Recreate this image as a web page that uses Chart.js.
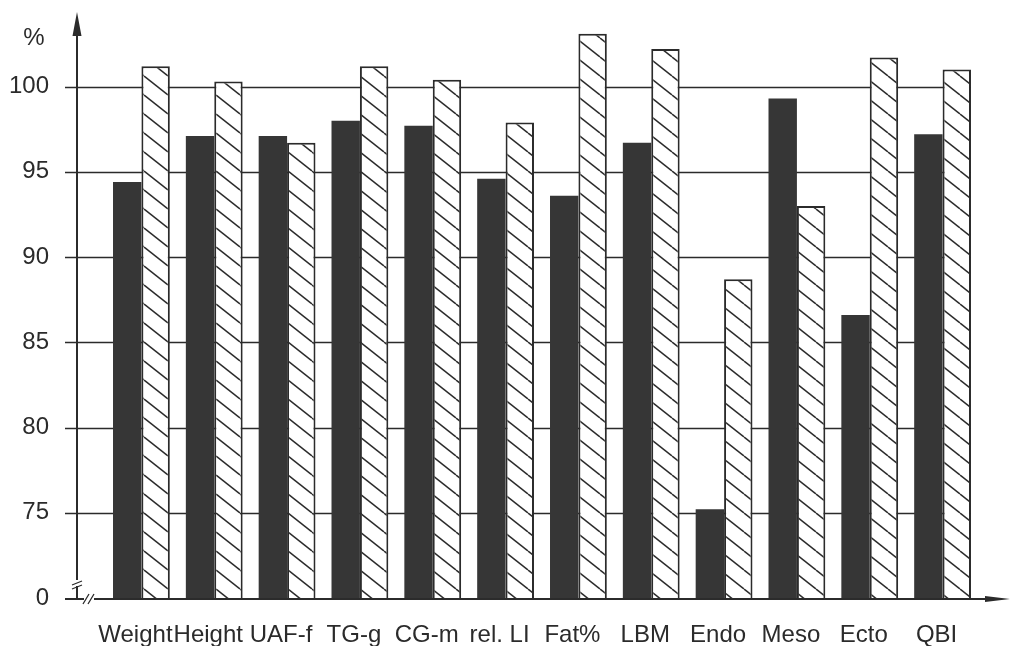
<!DOCTYPE html>
<html>
<head>
<meta charset="utf-8">
<script src="https://cdn.jsdelivr.net/npm/chart.js@4.4.0/dist/chart.umd.min.js"></script>
<style>
html, body { margin: 0; padding: 0; background: #fff; }
#wrap { width: 1014px; height: 646px; position: relative; }
</style>
</head>
<body>
<div id="wrap"><canvas id="chart"></canvas></div>
<script>
// values (broken axis: bottom is labelled 0, really ~70)
var categories = ['Weight', 'Height', 'UAF-f', 'TG-g', 'CG-m', 'rel. LI', 'Fat%', 'LBM', 'Endo', 'Meso', 'Ecto', 'QBI'];
var solidValues = [94.4, 97.1, 97.1, 98.0, 97.7, 94.6, 93.6, 96.7, 75.2, 99.3, 86.6, 97.2];
var hatchedValues = [101.2, 100.3, 96.7, 101.2, 100.4, 97.9, 103.1, 102.2, 88.7, 93.0, 101.7, 101.0];
var yTicks = [70, 75, 80, 85, 90, 95, 100];
var gridValues = [75, 80, 85, 90, 95, 100];

var ink = '#2b2b2b';
var font = '"Liberation Sans", Arial, sans-serif';

function makeHatch() {
  var c = document.createElement('canvas');
  c.width = 24; c.height = 19;
  var g = c.getContext('2d');
  g.fillStyle = '#fff';
  g.fillRect(0, 0, 24, 19);
  g.strokeStyle = ink;
  g.lineWidth = 1.5;
  for (var k = -1; k <= 1; k++) {
    g.beginPath();
    g.moveTo(0, k * 19);
    g.lineTo(24, 19 + k * 19);
    g.stroke();
  }
  return g.createPattern(c, 'repeat');
}

var frame = {
  id: 'frame',
  beforeDatasetsDraw: function (chart) {
    var ctx = chart.ctx, y = chart.scales.y, area = chart.chartArea;
    var last = chart.getDatasetMeta(1).data[categories.length - 1];
    var right = last.x + last.width / 2;
    ctx.save();
    ctx.strokeStyle = ink;
    ctx.lineWidth = 1.5;
    gridValues.forEach(function (v) {
      var py = Math.round(y.getPixelForValue(v)) + 0.5;
      ctx.beginPath();
      ctx.moveTo(area.left - 40, py);
      ctx.lineTo(right, py);
      ctx.stroke();
    });
    ctx.restore();
  },
  afterDatasetsDraw: function (chart) {
    var ctx = chart.ctx, area = chart.chartArea;
    var ax = area.left - 28, by = area.bottom + 1;
    ctx.save();
    ctx.strokeStyle = ink;
    ctx.fillStyle = ink;
    ctx.lineWidth = 2;
    // y axis + arrow
    ctx.beginPath();
    ctx.moveTo(ax, by);
    ctx.lineTo(ax, 30);
    ctx.stroke();
    ctx.beginPath();
    ctx.moveTo(ax, 12);
    ctx.lineTo(ax - 4.5, 36);
    ctx.lineTo(ax + 4.5, 36);
    ctx.closePath();
    ctx.fill();
    // x axis + arrow
    ctx.beginPath();
    ctx.moveTo(area.left - 40, by);
    ctx.lineTo(995, by);
    ctx.stroke();
    ctx.beginPath();
    ctx.moveTo(1010, by);
    ctx.lineTo(985, by - 3);
    ctx.lineTo(985, by + 3);
    ctx.closePath();
    ctx.fill();
    // break marks
    ctx.lineWidth = 1.3;
    ctx.fillStyle = '#fff';
    ctx.fillRect(ax - 3, by - 19, 6, 6);
    ctx.beginPath();
    ctx.moveTo(ax - 5, by - 14); ctx.lineTo(ax + 5, by - 18);
    ctx.moveTo(ax - 5, by - 10); ctx.lineTo(ax + 5, by - 14);
    ctx.stroke();
    ctx.fillRect(ax + 7, by - 2, 10, 4);
    ctx.beginPath();
    ctx.moveTo(ax + 6, by + 5); ctx.lineTo(ax + 12, by - 5);
    ctx.moveTo(ax + 11, by + 5); ctx.lineTo(ax + 17, by - 5);
    ctx.stroke();
    // unit label
    ctx.fillStyle = ink;
    ctx.font = '24px ' + font;
    ctx.textAlign = 'center';
    ctx.textBaseline = 'middle';
    ctx.fillText('%', 34, 38);
    ctx.restore();
  }
};

var chart = new Chart('chart', {
  type: 'bar',
  data: {
    labels: categories,
    datasets: [
      {
        label: 'solid',
        data: solidValues,
        backgroundColor: '#363636',
        borderWidth: 0
      },
      {
        label: 'hatched',
        data: hatchedValues,
        backgroundColor: makeHatch(),
        borderColor: ink,
        borderWidth: 2
      }
    ]
  },
  options: {
    responsive: true,
    maintainAspectRatio: false,
    animation: false,
    layout: { padding: { top: 17, right: 35, left: 0, bottom: 0 } },
    datasets: { bar: { categoryPercentage: 0.78, barPercentage: 1.0 } },
    plugins: { legend: { display: false }, tooltip: { enabled: false } },
    scales: {
      x: {
        grid: { display: false, drawTicks: true, tickLength: 21 },
        border: { display: false },
        ticks: {
          autoSkip: false, maxRotation: 0, padding: 2, labelOffset: -6,
          color: ink, font: { family: font, size: 24 }
        },
        afterFit: function (s) { s.height = 48; }
      },
      y: {
        min: 70, max: 104,
        grid: { display: false, drawTicks: true, tickLength: 52 },
        border: { display: false },
        afterBuildTicks: function (s) {
          s.ticks = yTicks.map(function (v) { return { value: v }; });
        },
        ticks: {
          padding: 4, color: ink, font: { family: font, size: 24 },
          callback: function (v) { return v === 70 ? '0' : String(v); }
        },
        afterFit: function (s) { s.width = 105; }
      }
    }
  },
  plugins: [frame]
});
</script>
</body>
</html>
